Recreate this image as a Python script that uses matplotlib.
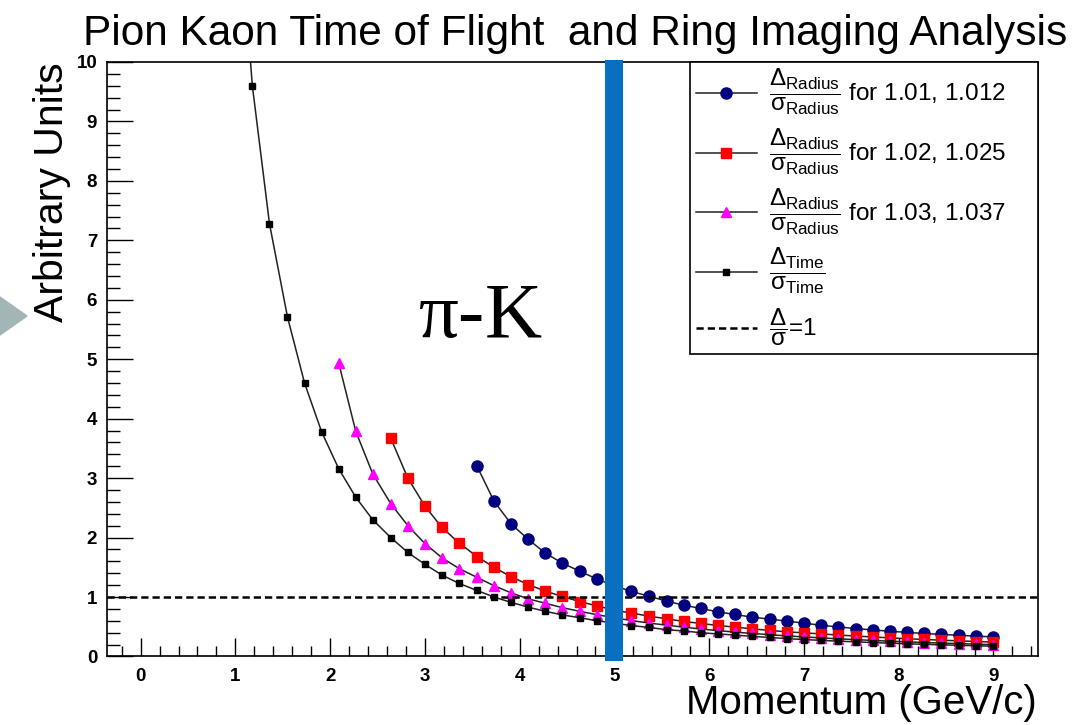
import matplotlib
matplotlib.use("Agg")
import matplotlib.pyplot as plt
from matplotlib.patches import Polygon
from matplotlib.ticker import MultipleLocator

plt.rcParams["font.family"] = ["Liberation Sans", "DejaVu Sans"]
plt.rcParams["mathtext.default"] = "regular"

# momentum grid shared by all graphs (GeV/c)
momentum = [1.0, 1.18, 1.36, 1.55, 1.73, 1.91, 2.09, 2.27, 2.45, 2.64, 2.82, 3.0,
            3.18, 3.36, 3.55, 3.73, 3.91, 4.09, 4.27, 4.45, 4.64, 4.82, 5.0, 5.18,
            5.36, 5.55, 5.73, 5.91, 6.09, 6.27, 6.45, 6.64, 6.82, 7.0, 7.18, 7.36,
            7.55, 7.73, 7.91, 8.09, 8.27, 8.45, 8.64, 8.82, 9.0]

# time of flight separation, all momenta
sep_time = [13.18, 9.59, 7.28, 5.71, 4.60, 3.78, 3.16, 2.68, 2.30, 2.00, 1.75, 1.55,
            1.37, 1.23, 1.11, 1.00, 0.91, 0.83, 0.76, 0.70, 0.65, 0.60, 0.56, 0.52,
            0.49, 0.45, 0.43, 0.40, 0.38, 0.36, 0.34, 0.32, 0.30, 0.285, 0.271, 0.258,
            0.246, 0.234, 0.224, 0.214, 0.204, 0.196, 0.188, 0.180, 0.173]

# ring radius separation, starting above kaon threshold for each index
sep_radius_103 = [4.94, 3.79, 3.07, 2.57, 2.20, 1.90, 1.66, 1.48, 1.33, 1.19, 1.07, 0.97,
                  0.895, 0.822, 0.758, 0.702, 0.651, 0.605, 0.563, 0.527, 0.493, 0.463,
                  0.436, 0.410, 0.388, 0.366, 0.347, 0.329, 0.313, 0.297, 0.283, 0.270,
                  0.257, 0.246, 0.235, 0.225, 0.216, 0.207, 0.199]
sep_radius_102 = [3.67, 3.00, 2.53, 2.17, 1.91, 1.68, 1.50, 1.34, 1.21, 1.10, 1.01, 0.92,
                  0.85, 0.78, 0.73, 0.68, 0.634, 0.589, 0.556, 0.522, 0.494, 0.466,
                  0.438, 0.415, 0.398, 0.380, 0.361, 0.344, 0.328, 0.313, 0.299, 0.286,
                  0.274, 0.263, 0.252, 0.242]
sep_radius_101 = [3.20, 2.61, 2.23, 1.97, 1.74, 1.57, 1.43, 1.30, 1.19, 1.094, 1.016,
                  0.931, 0.864, 0.808, 0.752, 0.707, 0.662, 0.629, 0.595, 0.561, 0.525,
                  0.497, 0.470, 0.446, 0.424, 0.405, 0.387, 0.371, 0.356, 0.342, 0.330]

cut_momentum = 5.0
frac_r = r"$\dfrac{\Delta_{Radius}}{\sigma_{Radius}}$"

fig = plt.figure(figsize=(10.75, 7.25), dpi=100)
ax = fig.add_axes([0.0995, 0.0945, 0.8661, 0.82])

ax.plot(momentum[-len(sep_radius_101):], sep_radius_101, color="#222222", lw=1.1,
        marker="o", ms=8, mfc="#000080", mec="#000080", label=frac_r + " for 1.01, 1.012")
ax.plot(momentum[-len(sep_radius_102):], sep_radius_102, color="#222222", lw=1.1,
        marker="s", ms=7.5, mfc="#ff0000", mec="#ff0000", label=frac_r + " for 1.02, 1.025")
ax.plot(momentum[-len(sep_radius_103):], sep_radius_103, color="#222222", lw=1.1,
        marker="^", ms=7.5, mfc="#ff00ff", mec="#ff00ff", label=frac_r + " for 1.03, 1.037")
ax.plot(momentum, sep_time, color="#222222", lw=1.1, marker="s", ms=4.5,
        mfc="black", mec="black", label=r"$\dfrac{\Delta_{Time}}{\sigma_{Time}}$")
ax.axhline(1, color="black", lw=1.8, ls=(0, (2.9, 1.6)), label=r"$\dfrac{\Delta}{\sigma}$=1")

ax.axvline(cut_momentum, ymin=-0.008, ymax=1.003, color="#0b6fbf", lw=13, zorder=6,
           clip_on=False, solid_capstyle="butt")

ax.set_xlim(-0.355, 9.47)
ax.set_ylim(0, 10)
ax.xaxis.set_major_locator(MultipleLocator(1))
ax.xaxis.set_minor_locator(MultipleLocator(0.2))
ax.yaxis.set_major_locator(MultipleLocator(1))
ax.yaxis.set_minor_locator(MultipleLocator(0.2))
ax.tick_params(which="both", direction="in", top=False, right=False, width=1)
ax.tick_params(which="major", labelsize=13.5)
ax.tick_params(axis="x", which="major", length=13, pad=8)
ax.tick_params(axis="x", which="minor", length=7)
ax.tick_params(axis="y", which="major", length=19, pad=7)
ax.tick_params(axis="y", which="minor", length=9.5)
for lab in ax.get_xticklabels() + ax.get_yticklabels():
    lab.set_fontweight("bold")
for s in ax.spines.values():
    s.set_linewidth(1.2)

leg = ax.legend(loc="upper left", bbox_to_anchor=(0.626, 0.5, 0.374, 0.5), mode="expand",
                borderaxespad=0, fancybox=False, framealpha=1, edgecolor="black",
                fontsize=17.5, handlelength=2.5, labelspacing=0.42, handletextpad=0.5,
                borderpad=0.25)
leg.get_frame().set_linewidth(1.2)

ax.text(3.58, 5.37, r"$\pi$-K", fontsize=57, family="Liberation Serif", ha="center",
        va="baseline", math_fontfamily="stix")

fig.text(575 / 1075, 1 - 45 / 725, "Pion Kaon Time of Flight  and Ring Imaging Analysis",
         ha="center", va="baseline", fontsize=30.5)
fig.text(52 / 1075, 1 - 62 / 725, "Arbitrary Units", rotation=90, ha="center", va="top",
         fontsize=29.5)
fig.text(1037 / 1075, 1 - 714 / 725, "Momentum (GeV/c)", ha="right", va="baseline",
         fontsize=29)

# slide arrow on the left edge
fig.patches.append(Polygon([[0, 1 - 297 / 725], [27 / 1075, 1 - 316 / 725], [0, 1 - 335 / 725]],
                           closed=True, transform=fig.transFigure, color="#a3b5b5"))

fig.savefig("out.png", dpi=100)
